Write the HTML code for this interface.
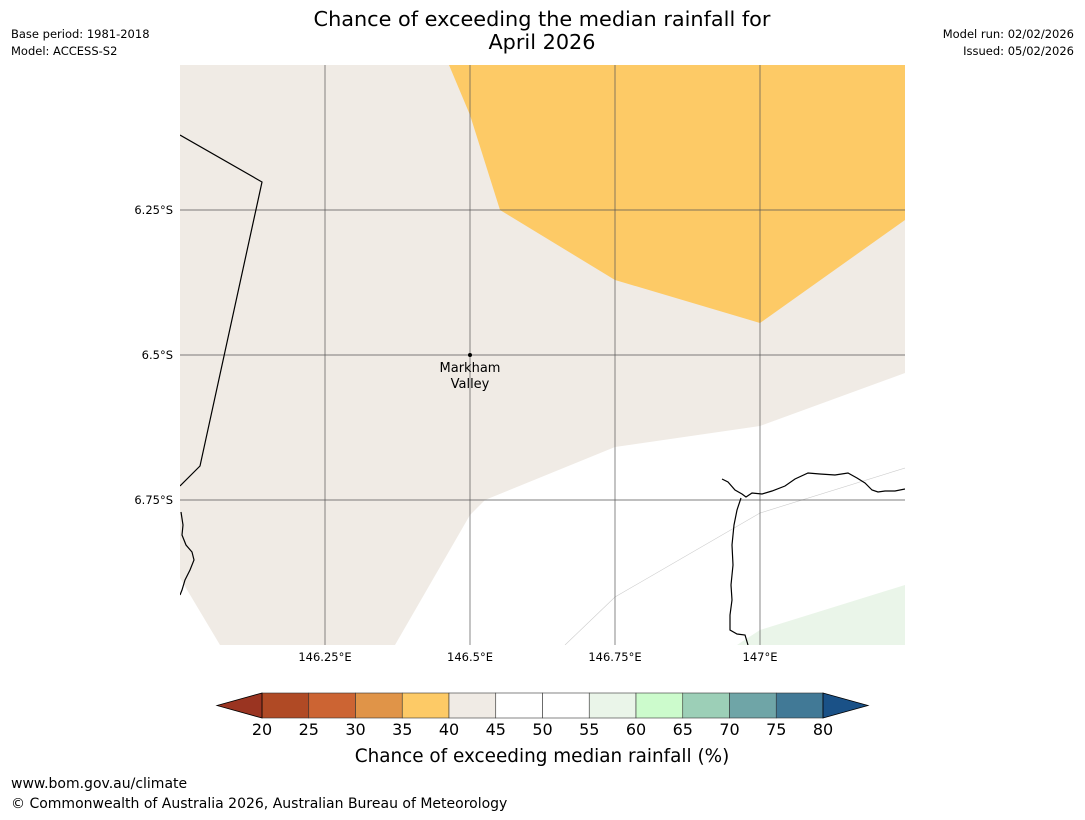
<!DOCTYPE html>
<html><head><meta charset="utf-8"><style>
html,body{margin:0;padding:0;background:#fff;}
body{width:1085px;height:816px;overflow:hidden;font-family:"DejaVu Sans","Liberation Sans",sans-serif;}
</style></head><body>
<svg id="fig" width="1085" height="816" viewBox="0 0 1085 816" xmlns="http://www.w3.org/2000/svg" font-family="DejaVu Sans, Liberation Sans, sans-serif">
<text x="542" y="26" text-anchor="middle" font-size="20.8">Chance of exceeding the median rainfall for</text>
<text x="542" y="49" text-anchor="middle" font-size="20.8">April 2026</text>
<text x="11" y="38" font-size="11.5">Base period: 1981-2018</text>
<text x="11" y="55" font-size="11.5">Model: ACCESS-S2</text>
<text x="1074" y="38" font-size="11.5" text-anchor="end">Model run: 02/02/2026</text>
<text x="1074" y="55" font-size="11.5" text-anchor="end">Issued: 05/02/2026</text>
<defs><clipPath id="mc"><rect x="180" y="65" width="725" height="580"/></clipPath></defs>
<g clip-path="url(#mc)">
<rect x="180" y="65" width="725" height="580" fill="#f0ebe5"/>
<polygon points="449,65 470,115 500,210 615,280 760,323 905,220 905,65" fill="#fdca66"/>
<polygon points="180,578 220,645 395,645 470,515 485,500 615,447 760,426 905,373 905,645 180,645" fill="#ffffff"/>
<polygon points="737,645 760,630 905,585 905,645" fill="#eaf5e9"/>
<polyline points="565,645 615,597 760,513 905,468" fill="none" stroke="#ccc" stroke-width="0.6"/>
<g id="grid"></g>
<polyline points="180,135 262,182 200,466 196,470 180,486" fill="none" stroke="#000" stroke-width="1.2"/>
<polyline points="181,512 183,525 182,535 186,545 192,552 194,560 190,570 185,580 182,590 180,595" fill="none" stroke="#000" stroke-width="1.2"/>
<polyline points="722,479 728,482 735,490 742,494 746,497 752,493 762,494 772,491 785,486 795,479 808,473 820,474 835,475 848,473 857,478 865,483 872,490 878,492 885,491 895,491 905,489" fill="none" stroke="#000" stroke-width="1.2"/>
<polyline points="741,498 737,510 734,525 732,545 733,565 731,585 732,600 730,615 730,630 737,634 745,635 748,645" fill="none" stroke="#000" stroke-width="1.2"/>
</g>
<g id="ticklabels" font-size="11.5"></g>
<circle cx="470" cy="355" r="2" fill="#000"/>
<text x="470" y="372" text-anchor="middle" font-size="13">Markham</text>
<text x="470" y="388" text-anchor="middle" font-size="13">Valley</text>
<g id="cbar"></g>
<text x="542" y="762" text-anchor="middle" font-size="18.4">Chance of exceeding median rainfall (%)</text>
<text x="11" y="788" font-size="14">www.bom.gov.au/climate</text>
<text x="11" y="808" font-size="14">© Commonwealth of Australia 2026, Australian Bureau of Meteorology</text>
</svg>
<script>
const NS="http://www.w3.org/2000/svg";
const lonTicks=[146.25,146.5,146.75,147];
const lonLabels=["146.25°E","146.5°E","146.75°E","147°E"];
const latTicks=[6.25,6.5,6.75];
const latLabels=["6.25°S","6.5°S","6.75°S"];
const tickValues=[20,25,30,35,40,45,50,55,60,65,70,75,80];
const segmentColors=["#b04a25","#cc6433","#e09448","#fdca66","#f0ebe5","#ffffff","#ffffff","#eaf5e9","#ccfbcc","#9ccfb7","#6fa5a7","#417996"];
const arrowColors=["#9a3421","#1a5187"];
function lonX(l){return 325+(l-146.25)*580;}
function latY(l){return 210+(l-6.25)*580;}
function cbX(v){return 262+(v-20)*(823-262)/60;}
function mk(tag,attrs,parent){const e=document.createElementNS(NS,tag);for(const k in attrs)e.setAttribute(k,attrs[k]);parent.appendChild(e);return e;}
const grid=document.getElementById('grid'),tl=document.getElementById('ticklabels'),cb=document.getElementById('cbar');
lonTicks.forEach((l,i)=>{const x=lonX(l);
 const ln=mk('line',{x1:x,y1:65,x2:x,y2:645,stroke:'#555','stroke-width':0.7},grid);
 
 
 const t=mk('text',{x:x,y:661,'text-anchor':'middle'},tl);t.textContent=lonLabels[i];
 
 });
latTicks.forEach((l,i)=>{const y=latY(l);
 const ln=mk('line',{x1:180,y1:y,x2:905,y2:y,stroke:'#555','stroke-width':0.7},grid);
 
 
 const t=mk('text',{x:173,y:y+4,'text-anchor':'end'},tl);t.textContent=latLabels[i];
 
 });
const y0=693,y1=718,ym=(y0+y1)/2;
segmentColors.forEach((c,i)=>{const x=cbX(tickValues[i]),x2=cbX(tickValues[i+1]);
 const r=mk('rect',{x:x,y:y0,width:x2-x,height:y1-y0,fill:c,stroke:'#333','stroke-width':0.6},cb);
 
 });
const la=mk('polygon',{points:`${cbX(20)},${y0} ${cbX(20)},${y1} 217,${ym}`,fill:arrowColors[0],stroke:'#000','stroke-width':0.8},cb);


const ra=mk('polygon',{points:`${cbX(80)},${y0} ${cbX(80)},${y1} 868,${ym}`,fill:arrowColors[1],stroke:'#000','stroke-width':0.8},cb);


tickValues.forEach(v=>{const t=mk('text',{x:cbX(v),y:735,'text-anchor':'middle','font-size':16},cb);t.textContent=v;
 
 });
</script>
</body></html>
